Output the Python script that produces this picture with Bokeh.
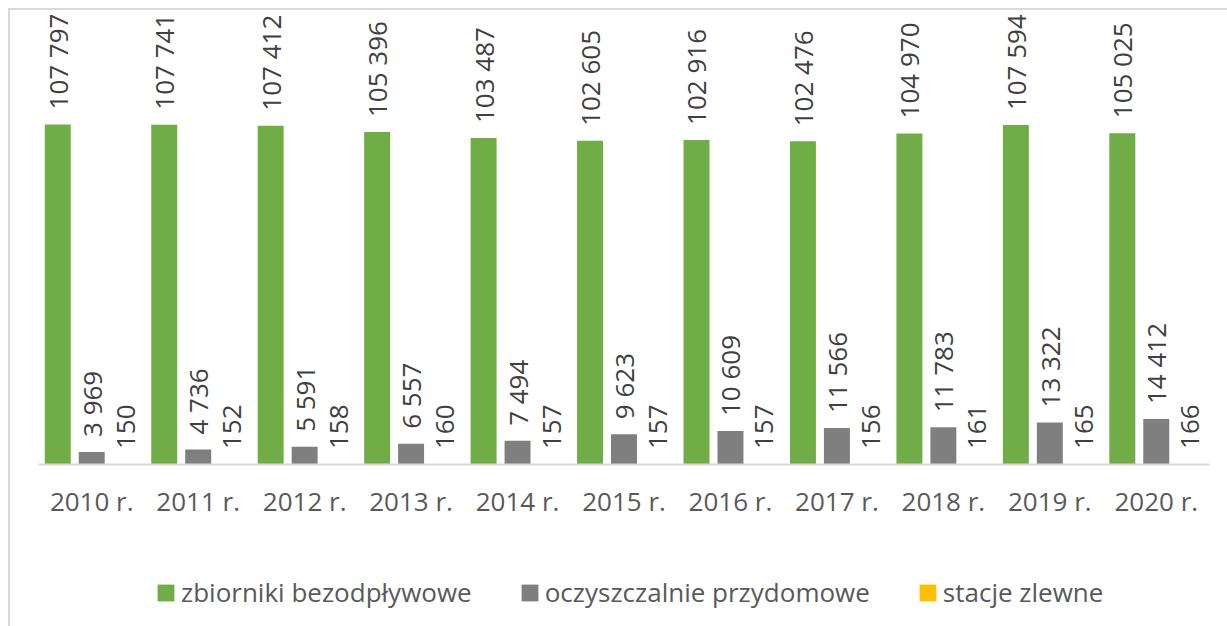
import math
from bokeh.plotting import figure
from bokeh.layouts import column
from bokeh.models import FactorRange, ColumnDataSource, Legend, LegendItem, Range1d, InlineStyleSheet
from bokeh.transform import dodge
from bokeh.core.properties import value
from bokeh.embed import file_html
from bokeh.resources import INLINE

years = ["2010 r.", "2011 r.", "2012 r.", "2013 r.", "2014 r.", "2015 r.",
         "2016 r.", "2017 r.", "2018 r.", "2019 r.", "2020 r."]
zbiorniki = [107797, 107741, 107412, 105396, 103487, 102605, 102916, 102476, 104970, 107594, 105025]
oczyszczalnie = [3969, 4736, 5591, 6557, 7494, 9623, 10609, 11566, 11783, 13322, 14412]
stacje = [150, 152, 158, 160, 157, 157, 157, 156, 161, 165, 166]

series_names = ["zbiorniki bezodpływowe", "oczyszczalnie przydomowe", "stacje zlewne"]
colors = ["#70AD47", "#7F7F7F", "#FFC000"]

def fmt(v):
    return f"{v:,}".replace(",", " ")

src = ColumnDataSource(dict(
    years=years,
    z=zbiorniki, o=oczyszczalnie, s=stacje,
    zl=[fmt(v) for v in zbiorniki],
    ol=[fmt(v) for v in oczyszczalnie],
    sl=[fmt(v) for v in stacje],
))

FONT = "Open Sans"
W = 1217
p = figure(x_range=FactorRange(*years), y_range=Range1d(0, 143300),
           width=W, height=530, output_backend="svg", toolbar_location=None,
           min_border_left=28, min_border_right=18, min_border_top=2, min_border_bottom=76)
p.outline_line_color = None
p.xgrid.visible = False
p.ygrid.visible = False
p.yaxis.visible = False

bw = 0.244
off = 0.319
for col, lab, dx, c in [("z", "zl", -off, colors[0]), ("o", "ol", 0.0, colors[1]), ("s", "sl", off, colors[2])]:
    p.vbar(x=dodge("years", dx, range=p.x_range), top=col, width=bw, source=src,
           fill_color=c, line_color=None)
    p.text(x=dodge("years", dx, range=p.x_range), y=col, text=lab, source=src,
           angle=math.pi / 2, text_align="left", text_baseline="middle",
           y_offset=-15, text_font=value(FONT), text_font_size="26px", text_color="#404040")

ax = p.xaxis[0]
ax.axis_line_color = "#D9D9D9"
ax.axis_line_width = 2
ax.major_tick_line_color = None
ax.minor_tick_line_color = None
ax.major_tick_out = 0
ax.major_tick_in = 0
ax.major_label_standoff = 18
ax.major_label_text_font = FONT
ax.major_label_text_font_size = "26px"
ax.major_label_text_color = "#595959"

# legend panel (legend swatches use zero-height placeholder bars)
pl = figure(width=W, height=86, output_backend="svg", toolbar_location=None,
            min_border=0, x_range=Range1d(0, 1), y_range=Range1d(0, 1))
pl.axis.visible = False
pl.grid.visible = False
pl.outline_line_color = None
dummies = [pl.vbar(x=[0.5], bottom=[0], top=[0], width=0.1, fill_color=c, line_color=None) for c in colors]
legend = Legend(items=[LegendItem(label=n, renderers=[r]) for n, r in zip(series_names, dummies)],
                orientation="horizontal", location=(117, 16),
                label_text_font=FONT, label_text_font_size="26px", label_text_color="#595959",
                glyph_width=21, glyph_height=21, label_standoff=5, spacing=47,
                padding=0, margin=0, border_line_color=None, background_fill_alpha=0)
pl.add_layout(legend, "center")

layout = column(p, pl, spacing=0)
layout.stylesheets = [InlineStyleSheet(css=":host { border-left: 2px solid #D9D9D9; border-top: 2px solid #D9D9D9; margin-left: 8px; margin-top: 8px; }")]

open("out.html", "w").write(file_html(layout, INLINE))
